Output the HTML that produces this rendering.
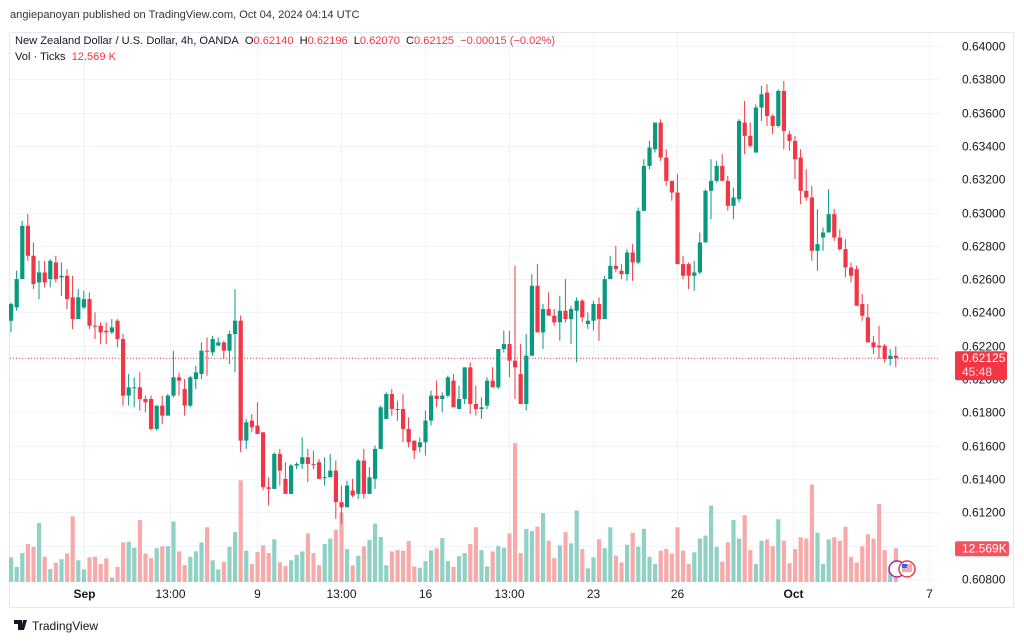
<!DOCTYPE html>
<html><head><meta charset="utf-8">
<style>
html,body{margin:0;padding:0;background:#fff;width:1024px;height:641px;overflow:hidden;font-family:"Liberation Sans",sans-serif;}
svg{display:block}
</style></head>
<body>
<svg id="chart" width="1024" height="641" xmlns="http://www.w3.org/2000/svg" font-family="Liberation Sans, sans-serif">
  <text x="10" y="18" font-size="11.1" fill="#333">angiepanoyan published on TradingView.com, Oct 04, 2024 04:14 UTC</text>
  <rect x="9.5" y="32.5" width="1004" height="575" fill="none" stroke="#e6e8ee"/>
  <g id="grid"></g>
  <g id="vol"></g>
  <g id="candles"></g>
  <g id="axes"></g>
  <g font-size="11.1">
    <text x="15" y="44" fill="#131722"><tspan>New Zealand Dollar / U.S. Dollar, 4h, OANDA</tspan><tspan dx="6">O</tspan><tspan fill="#f23645">0.62140</tspan><tspan dx="6">H</tspan><tspan fill="#f23645">0.62196</tspan><tspan dx="6">L</tspan><tspan fill="#f23645">0.62070</tspan><tspan dx="6">C</tspan><tspan fill="#f23645">0.62125</tspan><tspan dx="6" fill="#f23645">−0.00015 (−0.02%)</tspan></text>
    <text x="15" y="60" fill="#131722">Vol · Ticks<tspan dx="6" fill="#f23645">12.569 K</tspan></text>
  </g>
  <g>
    <circle cx="897" cy="569" r="8" fill="#fff" stroke="#9c27b0" stroke-width="1.5"/>
    <circle cx="907" cy="569" r="8" fill="#fff" stroke="#f23645" stroke-width="1.5"/>
    <rect x="902" y="564" width="10" height="8" fill="#f7a9a6"/>
    <rect x="902" y="564" width="5" height="4" fill="#2962ff"/>
  </g>
  <g>
    <path d="M14 620h8v10h-4v-6h-4z M23 620h4l-3 10h-3z" fill="#131722"/>
    <text x="32" y="630" font-size="12" fill="#131722">TradingView</text>
  </g>
</svg>
<script>
const opens=[.6235,.6243,.6260,.6292,.6274,.6258,.6264,.6260,.6270,.6261,.6262,.6249,.6236,.6243,.6248,.6232,.6232,.6229,.6228,.6235,.6224,.6190,.6195,.6195,.6188,.6188,.6170,.6184,.6178,.6190,.6201,.6194,.6184,.6200,.6203,.6217,.6216,.6220,.6222,.6217,.6227,.6235,.6163,.6175,.6172,.6168,.6135,.6134,.6155,.6140,.6131,.6148,.6149,.6153,.6149,.6150,.6141,.6141,.6145,.6126,.6123,.6133,.6131,.6151,.6131,.6140,.6158,.6176,.6191,.6182,.6182,.6170,.6163,.6159,.6162,.6175,.6190,.6188,.6190,.6199,.6182,.6188,.6207,.6185,.6182,.6184,.6199,.6195,.6218,.6221,.6211,.6203,.6185,.6214,.6256,.6228,.6242,.6238,.6234,.6241,.6236,.6241,.6247,.6233,.6235,.6245,.6236,.6260,.6268,.6265,.6263,.6276,.6270,.6301,.6328,.6338,.6354,.6333,.6319,.6312,.6269,.6269,.6262,.6264,.6282,.6313,.6319,.6328,.6319,.6304,.6308,.6354,.6346,.6336,.6363,.6372,.6358,.6352,.6373,.6347,.6343,.6333,.6313,.6309,.6277,.6285,.6288,.6299,.6285,.6278,.6267,.6266,.6245,.6237,.6222,.6220,.6220,.6212,.6214];
const highs=[.6246,.6265,.6295,.6299,.6282,.6271,.6271,.6272,.6274,.6270,.6266,.6262,.6254,.6253,.6252,.6240,.6234,.6234,.6236,.6236,.6227,.6203,.6201,.6204,.6190,.6190,.6184,.6190,.6191,.6217,.6204,.6200,.6202,.6208,.6222,.6225,.6226,.6225,.6223,.6229,.6254,.6238,.6176,.6179,.6186,.6168,.6141,.6156,.6158,.6150,.6149,.6150,.6165,.6158,.6157,.6152,.6153,.6155,.6151,.6136,.6139,.6140,.6152,.6158,.6147,.6160,.6184,.6192,.6194,.6187,.6191,.6177,.6163,.6165,.6181,.6193,.6199,.6192,.6202,.6203,.6196,.6207,.6210,.6196,.6189,.6201,.6207,.6218,.6229,.6229,.6268,.6221,.6227,.6263,.6269,.6245,.6252,.6242,.6250,.6260,.6244,.6249,.6248,.6240,.6247,.6249,.6262,.6274,.6280,.6269,.6278,.6281,.6303,.6332,.6343,.6354,.6356,.6338,.6319,.6323,.6274,.6270,.6271,.6288,.6314,.6332,.6331,.6335,.6322,.6315,.6356,.6367,.6354,.6365,.6376,.6377,.6359,.6374,.6379,.6349,.6346,.6338,.6326,.6316,.6302,.6291,.6314,.6302,.6290,.6284,.6270,.6268,.6251,.6245,.6226,.6232,.6221,.6218,.62196];
const lows=[.6228,.6241,.6260,.6271,.6254,.6248,.6255,.6255,.6258,.6250,.6242,.6230,.6236,.6242,.6230,.6224,.6221,.6221,.6227,.6219,.6184,.6184,.6183,.6181,.6180,.6169,.6169,.6173,.6178,.6189,.6190,.6178,.6183,.6194,.6200,.6202,.6214,.6220,.6212,.6209,.6204,.6156,.6158,.6168,.6167,.6133,.6124,.6134,.6136,.6131,.6131,.6146,.6146,.6138,.6146,.6140,.6136,.6141,.6116,.6113,.6123,.6129,.6128,.6128,.6131,.6134,.6158,.6176,.6178,.6175,.6162,.6159,.6152,.6156,.6154,.6172,.6183,.6180,.6189,.6183,.6182,.6185,.6179,.6178,.6176,.6182,.6195,.6194,.6216,.6201,.6188,.6185,.6181,.6214,.6228,.6218,.6238,.6232,.6223,.6234,.6221,.6210,.6234,.6230,.6229,.6223,.6236,.6260,.6264,.6260,.6259,.6259,.6269,.6301,.6326,.6336,.6331,.6316,.6307,.6269,.6260,.6254,.6253,.6263,.6282,.6296,.6318,.6319,.6301,.6296,.6306,.6335,.6339,.6336,.6355,.6352,.6347,.6351,.6338,.6337,.6320,.6305,.6307,.6271,.6265,.6277,.6288,.6283,.6277,.6261,.6258,.6244,.6235,.6222,.6215,.6212,.6210,.6208,.6207];
const closes=[.6245,.6260,.6292,.6274,.6257,.6264,.6258,.6271,.6260,.6262,.6248,.6236,.6249,.6248,.6232,.62315,.6228,.6228,.6231,.6224,.6190,.6195,.6195,.6188,.6186,.6170,.6184,.6178,.6190,.6201,.6199,.6184,.6201,.6204,.6217,.62165,.6224,.6222,.6217,.6227,.6235,.6163,.6174,.6171,.6167,.6135,.6134,.6155,.6145,.6131,.6148,.6149,.6153,.6149,.61485,.6140,.6141,.6145,.6126,.6123,.6136,.6130,.6151,.6131,.6141,.6158,.6183,.6191,.6182,.61815,.6170,.6162,.6157,.6162,.6175,.6190,.6188,.6190,.6201,.6183,.6188,.6207,.6185,.6182,.6183,.6199,.6195,.6218,.6221,.6211,.6207,.6185,.6214,.6256,.6228,.6242,.6238,.6234,.6241,.6236,.6242,.6247,.6237,.6235,.6245,.6236,.6260,.6268,.6266,.6263,.6276,.6270,.6301,.6328,.6339,.6354,.6333,.6319,.6312,.6269,.6262,.6262,.6264,.6282,.6313,.6319,.6328,.6319,.6304,.6309,.6355,.6346,.6340,.6363,.6371,.6358,.6352,.6373,.6349,.6343,.6332,.6313,.6309,.6277,.6281,.6288,.6299,.6285,.6278,.6267,.6262,.6244,.6238,.6222,.6219,.6219,.6212,.6214,.62125];
const volumes=[9.2,5.6,10.8,14.2,13.1,22.0,9.4,4.8,7.2,8.5,10.6,24.5,8.1,4.7,9.2,9.4,6.7,8.8,1.7,5.6,14.8,15.0,12.8,23.1,10.6,8.9,12.6,13.3,13.4,22.6,11.4,6.3,9.4,11.4,14.8,20.4,8.1,4.7,7.5,13.1,18.6,37.9,11.7,6.7,11.2,13.7,10.8,15.9,7.3,6.0,8.1,10.1,11.4,18.1,10.8,6.3,14.2,16.2,19.5,26.0,12.3,6.2,9.8,13.3,15.7,21.8,16.8,6.2,11.4,11.9,11.7,15.3,5.8,5.3,7.8,11.8,12.6,16.4,7.8,5.6,9.6,10.8,14.2,20.4,11.9,5.8,11.4,13.4,12.8,18.1,51.8,10.8,19.8,19.0,20.6,25.7,15.4,8.9,13.7,18.6,14.4,26.7,12.3,5.1,9.2,15.9,12.6,20.4,9.8,7.3,13.9,18.4,13.2,19.8,9.4,6.7,11.7,12.3,10.6,20.4,11.7,6.7,11.1,16.2,17.3,28.5,13.1,7.6,14.8,23.1,16.2,24.9,11.9,6.7,15.4,15.9,13.4,23.4,15.4,7.0,12.3,16.7,16.2,36.3,18.4,6.7,15.9,16.7,15.4,20.6,9.4,7.3,13.3,17.8,16.2,29.1,11.9,3.9,12.569];
const priceTicks=[0.640,0.638,0.636,0.634,0.632,0.630,0.628,0.626,0.624,0.622,0.620,0.618,0.616,0.614,0.612,0.610,0.608];
const timeLabels=["Sep","13:00","9","13:00","16","13:00","23","26","Oct","7"];
const timeLabelIdx=[13,28.4,44,59,74,89,104,119,139.6,164];
const lastPrice=0.62125, lastVolume=12.569;

const NS="http://www.w3.org/2000/svg";
const yOf=p=>46+(0.640-p)/0.002*33.3;
const xOf=i=>11+5.6*i;
const vH=v=>v/12.569*33.7;
const VBASE=582;
function mk(tag,attrs,parent){const e=document.createElementNS(NS,tag);for(const k in attrs)e.setAttribute(k,attrs[k]);parent.appendChild(e);return e;}
const grid=document.getElementById('grid'),vol=document.getElementById('vol'),cg=document.getElementById('candles'),axes=document.getElementById('axes');
const GREEN="#089981",RED="#f23645";

priceTicks.forEach(p=>{
  const y=Math.round(yOf(p))+0.5;
  const l=mk('line',{x1:10,x2:940,y1:y,y2:y,stroke:"#f0f3fa"},grid);
  
  
  const t=mk('text',{x:962,y:y+4,'font-size':12,fill:"#131722"},axes);
  t.textContent=p.toFixed(5);
  
  
});
timeLabels.forEach((lab,k)=>{
  const x=Math.round(xOf(timeLabelIdx[k]))+0.5;
  const l=mk('line',{x1:x,x2:x,y1:33,y2:585,stroke:"#f0f3fa"},grid);
  
  
  const t=mk('text',{x:x,y:598,'font-size':12,fill:"#131722",'text-anchor':'middle','font-weight':(lab==="Sep"||lab==="Oct")?'bold':'normal'},axes);
  t.textContent=lab;
  
  
});

volumes.forEach((v,i)=>{
  const up=closes[i]>=opens[i];
  const h=vH(v);
  const r=mk('rect',{x:xOf(i)-2,y:VBASE-h,width:4.2,height:h,fill:up?"#8fd1c5":"#f8a9a9"},vol);
  
  
});

const ly=yOf(lastPrice);
const pl=mk('line',{x1:10,x2:940,y1:ly,y2:ly,stroke:RED,'stroke-dasharray':'1,2','stroke-width':1},cg);



opens.forEach((o,i)=>{
  const c=closes[i],up=c>=o,col=up?GREEN:RED,x=xOf(i);
  const w=mk('line',{x1:x,x2:x,y1:yOf(highs[i]),y2:yOf(lows[i]),stroke:col,'stroke-width':1},cg);
  
  
  const top=yOf(Math.max(o,c)),bot=yOf(Math.min(o,c));
  const b=mk('rect',{x:x-2,y:top,width:4.2,height:Math.max(1,bot-top),fill:col},cg);
  
  
});

const pb=mk('rect',{x:955,y:ly-7,width:52,height:29,rx:2,fill:RED},axes);


const pt=mk('text',{x:962,y:ly+4,'font-size':12,fill:"#fff"},axes);
pt.textContent=lastPrice.toFixed(5);


const ct=mk('text',{x:962,y:ly+18,'font-size':12,fill:"#fde0e2"},axes);
ct.textContent="45:48";


const vy=VBASE-vH(lastVolume);
const vb=mk('rect',{x:955,y:vy-7,width:54,height:15,rx:2,fill:"#f7525f"},axes);


const vt=mk('text',{x:962,y:vy+4,'font-size':12,fill:"#fff"},axes);
vt.textContent=lastVolume.toFixed(3)+"K";


</script>
</body></html>
